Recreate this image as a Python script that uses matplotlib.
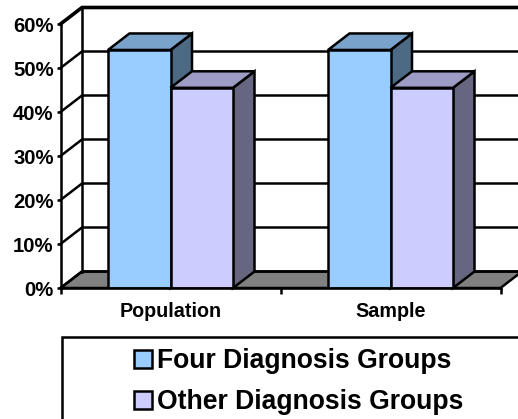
import matplotlib
matplotlib.use("Agg")
import matplotlib.pyplot as plt
from matplotlib.patches import Polygon, Rectangle

plt.rcParams['font.family'] = ['Liberation Sans', 'DejaVu Sans']
plt.rcParams['font.weight'] = 'bold'

categories = ["Population", "Sample"]
four_groups = [54.1, 54.1]
other_groups = [45.5, 45.5]
y_ticks = [0, 10, 20, 30, 40, 50, 60]
series_names = ["Four Diagnosis Groups", "Other Diagnosis Groups"]

W, H = 518, 419
fig = plt.figure(figsize=(W / 100, H / 100), dpi=100)
ax = fig.add_axes([60.5 / W, (H - 288) / H, 440 / W, 264 / H])
ax.set_xlim(-0.5, 1.5)
ax.set_ylim(0, 60)
ax.patch.set_alpha(0)

# fake 3d depth, in data units
DX = 21.5 / 220
DY = 16.5 / 4.4
BAR_W = 62.5 / 220
LW = 1.8
xr = 1.5 + DX

# floor
ax.add_patch(Polygon([(-0.5, 0), (1.5, 0), (xr, DY), (-0.5 + DX, DY)], closed=True,
                     fc='#808080', ec='k', lw=LW, clip_on=False, zorder=1))
# back wall and left wall
for v in y_ticks:
    lw = 2.6 if v == 60 else LW
    ax.plot([-0.5, -0.5 + DX, xr], [v, v + DY, v + DY], color='k', lw=lw,
            clip_on=False, zorder=1.5, solid_joinstyle='miter')
ax.plot([-0.5 + DX, -0.5 + DX], [DY, 60 + DY], color='k', lw=LW, clip_on=False, zorder=1.5)


def bars3d(x0, vals, front, top, side, z):
    for i, v in enumerate(vals):
        xa = i + x0
        xb = xa + BAR_W
        ax.add_patch(Polygon([(xb, 0), (xb + DX, DY), (xb + DX, v + DY), (xb, v)], closed=True,
                             fc=side, ec='k', lw=LW, clip_on=False, zorder=z))
        ax.add_patch(Polygon([(xa, v), (xb, v), (xb + DX, v + DY), (xa + DX, v + DY)], closed=True,
                             fc=top, ec='k', lw=LW, clip_on=False, zorder=z))
    return ax.bar([i + x0 for i in range(len(vals))], vals, BAR_W, align='edge',
                  color=front, edgecolor='k', lw=LW, zorder=z + 0.1)


h1 = bars3d(-BAR_W, four_groups, '#99CCFF', '#7AA3CC', '#4D6A85', 2)
h2 = bars3d(0, other_groups, '#CCCCFF', '#9C9CC4', '#666680', 3)

for s in ['top', 'right']:
    ax.spines[s].set_visible(False)
for s in ['left', 'bottom']:
    ax.spines[s].set_linewidth(LW)
    ax.spines[s].set_zorder(5)

ax.set_yticks(y_ticks)
ax.set_yticklabels([f"{v}%" for v in y_ticks], fontsize=14.6)
ax.tick_params(axis='y', length=3, width=LW, pad=2)
ax.set_xticks([-0.5, 0.5, 1.5])
ax.set_xticklabels([])
ax.set_xticks([0, 1], labels=categories, minor=True, fontsize=14.2)
ax.tick_params(axis='x', which='major', length=4, width=LW)
ax.tick_params(axis='x', which='minor', length=0, pad=10)

# legend box runs off the image on the right and bottom
fig.add_artist(Rectangle((62 / W, -0.05), 0.95, (H - 337) / H + 0.05, transform=fig.transFigure,
                         fc='white', ec='k', lw=LW))
fig.legend([h1, h2], series_names, loc='upper left', bbox_to_anchor=(126 / W, (H - 340) / H),
           frameon=False, fontsize=19.1, handlelength=0.68, handleheight=0.68,
           handletextpad=0.2, labelspacing=0.58, borderpad=0.3, borderaxespad=0)

fig.savefig("out.png", dpi=100)
